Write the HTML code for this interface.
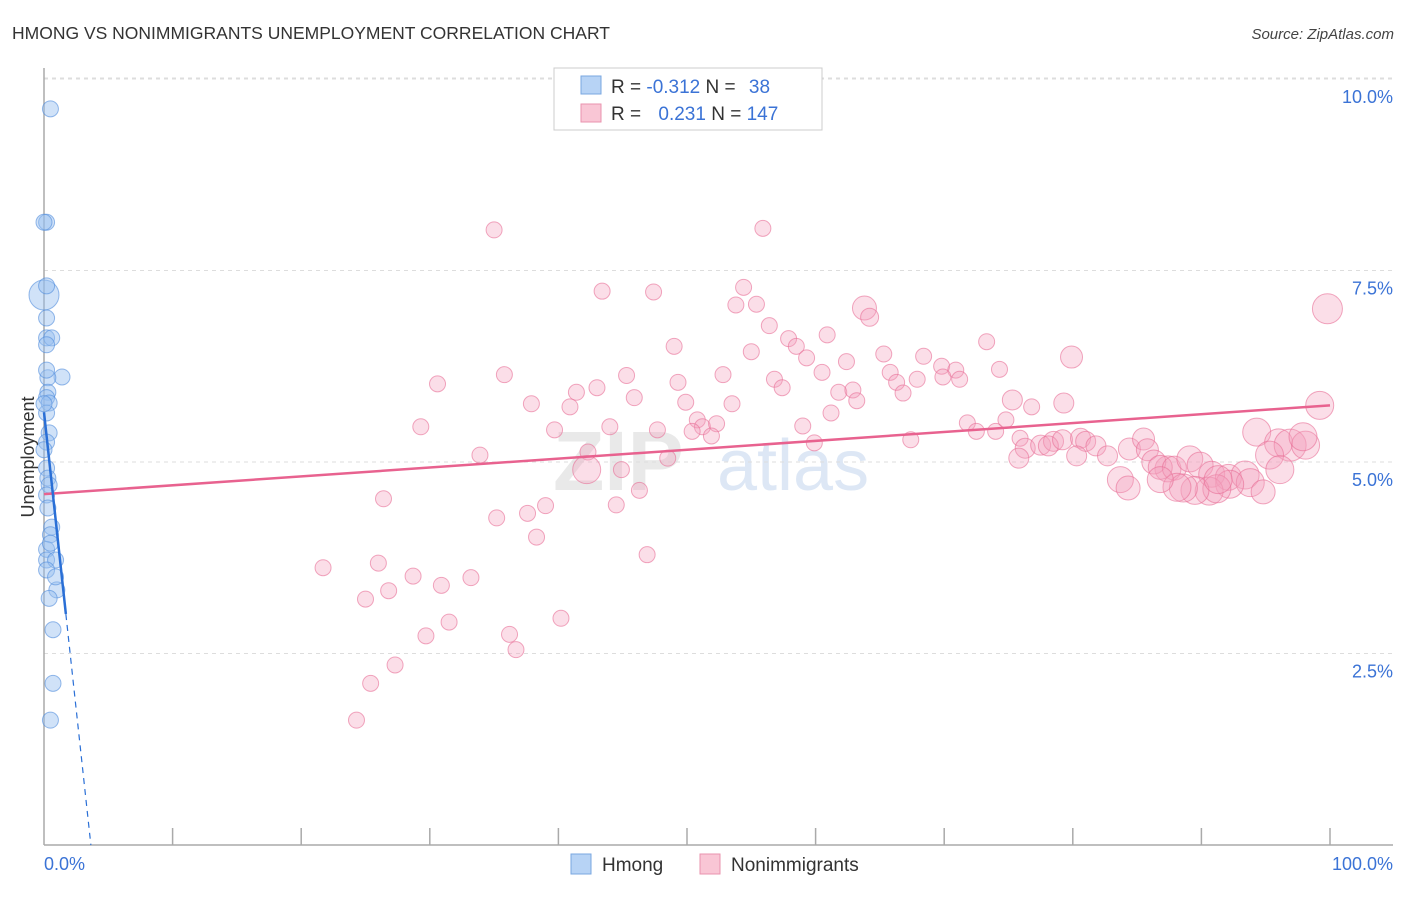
<!DOCTYPE html>
<html><head><meta charset="utf-8"><style>
body{margin:0;background:#fff;font-family:"Liberation Sans",sans-serif;}
svg text{font-family:"Liberation Sans",sans-serif;}
</style></head><body>
<svg id="chart" width="1406" height="892" xmlns="http://www.w3.org/2000/svg">
<text x="12" y="39" font-size="17.5" fill="#333">HMONG VS NONIMMIGRANTS UNEMPLOYMENT CORRELATION CHART</text>
<text x="1394" y="39" font-size="15" fill="#444" text-anchor="end" font-style="italic">Source: ZipAtlas.com</text>
<g opacity="0.5">
<text x="553" y="490" font-size="84" fill="#d4d4d4" font-family="Liberation Serif" font-weight="bold">ZIP</text>
<text x="717" y="490" font-size="72" fill="#bcd0ec">atlas</text>
</g>
<g id="grid"></g>
<g id="axes"></g>
<g id="pink"></g>
<g id="blue"></g>
<g id="trends"></g>
<g>
<rect x="554" y="68" width="268" height="62" fill="#fff" stroke="#ccc"/>
<rect x="581" y="76" width="20" height="18" fill="#b7d3f5" stroke="#7aa7e0"/>
<rect x="581" y="104" width="20" height="18" fill="#f9c6d5" stroke="#e993ae"/>
<text x="611" y="93" font-size="19" fill="#333">R = <tspan fill="#3b73d6">-0.312</tspan>   N = <tspan fill="#3b73d6" dx="8">38</tspan></text>
<text x="611" y="120" font-size="19" fill="#333">R = <tspan fill="#3b73d6" dx="12">0.231</tspan>   N = <tspan fill="#3b73d6">147</tspan></text>
</g>
<g>
<rect x="571" y="854" width="20" height="20" fill="#b7d3f5" stroke="#7aa7e0"/>
<text x="602" y="871" font-size="19" fill="#333">Hmong</text>
<rect x="700" y="854" width="20" height="20" fill="#f9c6d5" stroke="#e993ae"/>
<text x="731" y="871" font-size="19" fill="#333">Nonimmigrants</text>
</g>
<text transform="translate(34,457) rotate(-90)" font-size="18" fill="#333" text-anchor="middle">Unemployment</text>
</svg>
<script>
const yTicks=[2.5,5,7.5,10];
const yTickLabels=["2.5%","5.0%","7.5%","10.0%"];
const xTickLabels=["0.0%","100.0%"];
const pinkX=[35.0,55.9,43.4,47.4,54.4,53.8,55.4,63.8,64.2,99.8,56.4,49.0,57.9,60.9,58.5,55.0,59.3,65.3,68.4,73.3,79.9,35.8,30.6,45.3,43.0,41.4,49.3,52.8,60.5,62.4,65.8,69.8,70.9,74.3,66.3,67.9,69.9,71.2,56.8,57.4,61.8,62.9,63.2,66.8,45.9,37.9,40.9,49.9,53.5,75.3,76.8,79.3,29.3,39.7,44.0,47.7,50.8,51.2,52.3,51.9,50.4,59.0,61.2,71.8,72.5,74.0,74.8,75.9,33.9,42.3,48.5,59.9,67.4,76.3,77.5,78.5,78.1,79.2,80.6,81.0,81.8,75.8,80.3,82.7,84.4,85.5,85.8,87.4,86.3,86.8,87.9,89.1,89.9,90.8,92.1,94.3,96.0,96.9,98.1,99.2,97.9,95.3,96.1,93.4,93.8,92.2,90.6,91.2,89.5,88.6,88.1,86.8,83.7,84.3,94.8,91.3,42.2,44.9,46.3,26.4,44.5,39.0,35.2,37.6,38.3,46.9,21.7,26.0,28.7,33.2,30.9,26.8,25.0,31.5,40.2,29.7,36.2,36.7,27.3,25.4,24.3];
const pinkY=[8.03,8.05,7.23,7.22,7.28,7.05,7.06,7.01,6.89,7.00,6.78,6.51,6.61,6.66,6.51,6.44,6.36,6.41,6.38,6.57,6.37,6.14,6.02,6.13,5.97,5.91,6.04,6.14,6.17,6.31,6.17,6.25,6.20,6.21,6.04,6.08,6.11,6.08,6.08,5.97,5.91,5.94,5.80,5.90,5.84,5.76,5.72,5.78,5.76,5.81,5.72,5.77,5.46,5.42,5.46,5.42,5.55,5.46,5.50,5.34,5.40,5.47,5.64,5.51,5.40,5.40,5.55,5.31,5.09,5.13,5.05,5.25,5.29,5.18,5.22,5.27,5.21,5.29,5.31,5.27,5.21,5.05,5.08,5.08,5.17,5.30,5.16,4.91,5.00,4.93,4.92,5.04,4.96,4.84,4.80,5.39,5.25,5.22,5.22,5.74,5.33,5.09,4.90,4.83,4.73,4.71,4.62,4.65,4.63,4.66,4.67,4.77,4.77,4.66,4.61,4.77,4.90,4.90,4.63,4.52,4.44,4.43,4.27,4.33,4.02,3.79,3.62,3.68,3.51,3.49,3.39,3.32,3.21,2.91,2.96,2.73,2.75,2.55,2.35,2.11,1.63];
const pinkSize=[8,8,8,8,8,8,8,12,9,15,8,8,8,8,8,8,8,8,8,8,11,8,8,8,8,8,8,8,8,8,8,8,8,8,8,8,8,8,8,8,8,8,8,8,8,8,8,8,8,10,8,10,8,8,8,8,8,8,8,8,8,8,8,8,8,8,8,8,8,8,8,8,8,10,10,10,10,10,10,10,10,10,10,10,11,11,11,13,12,12,12,13,13,13,13,14,14,16,14,14,14,14,14,14,14,14,14,14,14,14,14,13,13,12,12,14,14,8,8,8,8,8,8,8,8,8,8,8,8,8,8,8,8,8,8,8,8,8,8,8,8,8];
const blueX=[0.5,0.2,0.0,0.0,0.2,0.2,0.2,0.6,0.2,1.4,0.3,0.3,0.2,0.4,0.2,0.4,0.2,0.2,0.3,0.4,0.2,0.6,0.5,0.2,0.2,0.9,0.2,1.0,0.4,0.7,0.7,0.5,0.0,0.3,0.5,0.9,0.2,0.0];
const blueY=[9.61,8.13,8.13,7.18,7.30,6.88,6.62,6.62,6.53,6.11,6.10,5.91,5.84,5.77,5.64,5.38,5.26,4.92,4.79,4.70,4.57,4.15,4.05,3.86,3.72,3.72,3.59,3.33,3.22,2.81,2.11,1.63,5.76,4.40,3.94,3.50,6.20,5.16];
const blueSize=[8,8,8,15,8,8,8,8,8,8,8,8,8,8,8,8,8,8,8,8,8,8,8,8,8,8,8,8,8,8,8,8,8,8,8,8,8,8];
const pinkTrend=[4.58,5.74];
const blueTrend=[5.65,-1.55];

const X0=44,X1=1330,Y0=845,YPX=76.6;
const sx=v=>X0+(X1-X0)*v/100;
const sy=v=>Y0-v*YPX;
const NS="http://www.w3.org/2000/svg";
function mk(tag,parent,attrs){const e=document.createElementNS(NS,tag);for(const k in attrs)e.setAttribute(k,attrs[k]);parent.appendChild(e);return e;}
const grid=document.getElementById('grid'),axes=document.getElementById('axes');
yTicks.forEach((t,i)=>{
  const l=mk('line',grid,{x1:X0,x2:1393,y1:sy(t),y2:sy(t),stroke:'#ddd','stroke-dasharray':'4,4'});
  
  
  const tx=mk('text',axes,{x:1393,y:sy(t)+24,'font-size':18,fill:'#3b73d6','text-anchor':'end'});
  tx.textContent=yTickLabels[i];
  
  
});
const tg=mk('line',grid,{x1:X0,x2:1393,y1:sy(10)-1,y2:sy(10)-1,stroke:'#ddd','stroke-dasharray':'4,4'});
let a=mk('line',axes,{x1:X0,x2:X0,y1:68,y2:Y0,stroke:'#aaa','stroke-width':1.5});


a=mk('line',axes,{x1:X0,x2:1393,y1:Y0,y2:Y0,stroke:'#aaa','stroke-width':1.5});


for(let i=1;i<=10;i++){const t=mk('line',axes,{x1:sx(i*10),x2:sx(i*10),y1:828,y2:Y0,stroke:'#aaa','stroke-width':1.5});
  
  }
let xl=mk('text',axes,{x:44,y:870,'font-size':18,fill:'#3b73d6'});xl.textContent=xTickLabels[0];


xl=mk('text',axes,{x:1393,y:870,'font-size':18,fill:'#3b73d6','text-anchor':'end'});xl.textContent=xTickLabels[1];


const pg=document.getElementById('pink');
pinkX.forEach((v,i)=>{const c=mk('circle',pg,{cx:sx(v),cy:sy(pinkY[i]),r:pinkSize[i],fill:'rgba(244,160,188,0.35)',stroke:'rgba(232,110,150,0.6)','stroke-width':1});
  
  });
const bg=document.getElementById('blue');
blueX.forEach((v,i)=>{const c=mk('circle',bg,{cx:sx(v),cy:sy(blueY[i]),r:blueSize[i],fill:'rgba(150,190,240,0.45)',stroke:'rgba(80,140,220,0.6)','stroke-width':1});
  
  });
const tr=document.getElementById('trends');
let t=mk('line',tr,{x1:sx(0),y1:sy(pinkTrend[0]),x2:sx(100),y2:sy(pinkTrend[1]),stroke:'#e8628f','stroke-width':2.5});


const bEnd=1.7,bZero=-blueTrend[0]/blueTrend[1];
t=mk('line',tr,{x1:sx(0),y1:sy(blueTrend[0]),x2:sx(bEnd),y2:sy(blueTrend[0]+blueTrend[1]*bEnd),stroke:'#2a6fd6','stroke-width':2.5});


t=mk('line',tr,{x1:sx(bEnd),y1:sy(blueTrend[0]+blueTrend[1]*bEnd),x2:sx(bZero),y2:sy(0),stroke:'#2a6fd6','stroke-width':1.2,'stroke-dasharray':'6,5'});


</script>
</body></html>
